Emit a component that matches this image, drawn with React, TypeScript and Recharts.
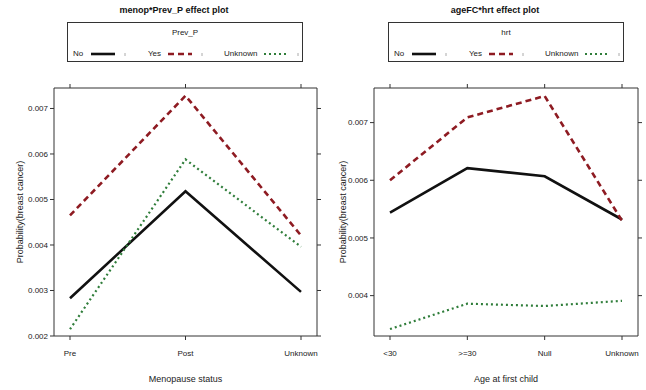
import React from "react";
import { LineChart, Line, XAxis, YAxis } from "recharts";

// menop*Prev_P panel
const menopCats = ["Pre", "Post", "Unknown"];
const menopNo = [0.00283, 0.00518, 0.00297];
const menopYes = [0.00465, 0.00728, 0.00421];
const menopUnknown = [0.00215, 0.00588, 0.00396];
const menopTicks = [0.002, 0.003, 0.004, 0.005, 0.006, 0.007];

// ageFC*hrt panel
const ageCats = ["<30", ">=30", "Null", "Unknown"];
const ageNo = [0.00544, 0.00621, 0.00607, 0.00532];
const ageYes = [0.006, 0.00709, 0.00746, 0.0053];
const ageUnknown = [0.00342, 0.00386, 0.00382, 0.00391];
const ageTicks = [0.004, 0.005, 0.006, 0.007];

const groupLabels = ["No", "Yes", "Unknown"];

const FONT = '"Liberation Sans", Arial, sans-serif';
const FRAME = "#333";
const SERIES = [
  { key: "no", stroke: "#111111", width: 2.6, dash: undefined as string | undefined },
  { key: "yes", stroke: "#8e1b22", width: 2.6, dash: "6 4" },
  { key: "unk", stroke: "#2f7d3a", width: 2.2, dash: "2 3" }
];

function LegendBox({ left, title }: { left: number; title: string }) {
  const items = [
    { text: groupLabels[0], tx: 5, lx: 23 },
    { text: groupLabels[1], tx: 80, lx: 100 },
    { text: groupLabels[2], tx: 156, lx: 196 }
  ];
  return (
    <div
      style={{
        position: "absolute",
        left,
        top: 22,
        width: 236,
        height: 40,
        border: `1px solid ${FRAME}`,
        boxSizing: "border-box",
        fontFamily: FONT,
        fontSize: 8,
        color: "#222"
      }}
    >
      <div style={{ position: "absolute", top: 5, width: "100%", textAlign: "center" }}>{title}</div>
      {items.map((it, i) => (
        <React.Fragment key={it.text}>
          <div style={{ position: "absolute", left: it.tx, top: 26 }}>{it.text}</div>
          <svg style={{ position: "absolute", left: it.lx, top: 27 }} width={40} height={10}>
            <line
              x1={0}
              x2={24}
              y1={4}
              y2={4}
              stroke={SERIES[i].stroke}
              strokeWidth={SERIES[i].width}
              strokeDasharray={SERIES[i].dash}
            />
            <line x1={34} x2={34} y1={3} y2={6} stroke="#aaa" strokeWidth={1} />
          </svg>
        </React.Fragment>
      ))}
    </div>
  );
}

function EffectPanel(props: {
  left: number;
  title: string;
  titleCenter: number;
  legendTitle: string;
  legendLeft: number;
  xTitle: string;
  cats: string[];
  no: number[];
  yes: number[];
  unk: number[];
  domain: [number, number];
  ticks: number[];
  yWidth: number;
  rightMargin: number;
}) {
  const data = props.cats.map((c, i) => ({ cat: c, no: props.no[i], yes: props.yes[i], unk: props.unk[i] }));
  const fmt = (v: number) => v.toFixed(3);
  const blank = () => "";
  return (
    <>
      <div
        style={{
          position: "absolute",
          left: props.titleCenter - 100,
          top: 5,
          width: 200,
          textAlign: "center",
          fontFamily: FONT,
          fontWeight: "bold",
          fontSize: 9,
          color: "#111"
        }}
      >
        {props.title}
      </div>
      <LegendBox left={props.legendLeft} title={props.legendTitle} />
      <div style={{ position: "absolute", left: props.left, top: 0 }}>
        <LineChart
          width={323}
          height={390}
          data={data}
          margin={{ top: 87, right: props.rightMargin, bottom: 8, left: 0 }}
          style={{ fontFamily: FONT }}
        >
          <XAxis
            xAxisId="b"
            dataKey="cat"
            padding={{ left: 16, right: 16 }}
            height={46}
            interval={0}
            stroke={FRAME}
            tickSize={4}
            tickMargin={10}
            tick={{ fontSize: 8, fill: "#222" }}
            label={{ value: props.xTitle, position: "insideBottom", offset: 0, fontSize: 9, fill: "#222" }}
          />
          <XAxis
            xAxisId="t"
            orientation="top"
            dataKey="cat"
            padding={{ left: 16, right: 16 }}
            height={1}
            interval={0}
            stroke={FRAME}
            tickSize={4}
            tickFormatter={blank}
          />
          <YAxis
            yAxisId="l"
            type="number"
            domain={props.domain}
            ticks={props.ticks}
            allowDataOverflow
            width={props.yWidth}
            stroke={FRAME}
            tickSize={4}
            tickFormatter={fmt}
            tick={{ fontSize: 8, fill: "#222" }}
            label={{
              value: "Probability(breast cancer)",
              angle: -90,
              position: "insideLeft",
              offset: 20,
              fontSize: 9,
              fill: "#222",
              style: { textAnchor: "middle" }
            }}
          />
          <YAxis
            yAxisId="r"
            orientation="right"
            type="number"
            domain={props.domain}
            ticks={props.ticks}
            allowDataOverflow
            width={1}
            stroke={FRAME}
            tickSize={4}
            tickFormatter={blank}
          />
          {SERIES.map((s) => (
            <Line
              key={s.key}
              xAxisId="b"
              yAxisId="l"
              type="linear"
              dataKey={s.key}
              stroke={s.stroke}
              strokeWidth={s.width}
              strokeDasharray={s.dash}
              dot={false}
              activeDot={false}
              isAnimationActive={false}
            />
          ))}
        </LineChart>
      </div>
    </>
  );
}

export default function App() {
  return (
    <div style={{ position: "absolute", left: 0, top: 0, width: 646, height: 390, background: "#fff" }}>
      <EffectPanel
        left={0}
        title="menop*Prev_P effect plot"
        titleCenter={174}
        legendTitle="Prev_P"
        legendLeft={67}
        xTitle="Menopause status"
        cats={menopCats}
        no={menopNo}
        yes={menopYes}
        unk={menopUnknown}
        domain={[0.002, 0.00745]}
        ticks={menopTicks}
        yWidth={54}
        rightMargin={5}
      />
      <EffectPanel
        left={323}
        title="ageFC*hrt effect plot"
        titleCenter={495}
        legendTitle="hrt"
        legendLeft={388}
        xTitle="Age at first child"
        cats={ageCats}
        no={ageNo}
        yes={ageYes}
        unk={ageUnknown}
        domain={[0.0033, 0.0076]}
        ticks={ageTicks}
        yWidth={51}
        rightMargin={7}
      />
    </div>
  );
}
